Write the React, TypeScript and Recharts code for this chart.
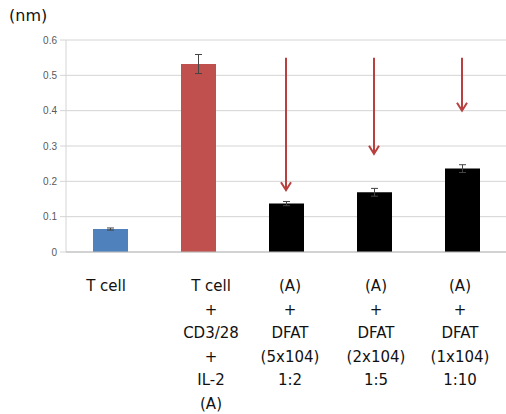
import { BarChart, Bar, XAxis, YAxis, CartesianGrid, Cell, ErrorBar, ReferenceLine } from 'recharts';

// categories and their multi-line labels
const CATEGORIES = ['tcell', 'stim', 'dfat52', 'dfat25', 'dfat110'];
const LABELS = [
    ['T cell'],
    ['T cell', '+', 'CD3/28', '+', 'IL-2', '(A)'],
    ['(A)', '+', 'DFAT', '(5x104)', '1:2'],
    ['(A)', '+', 'DFAT', '(2x104)', '1:5'],
    ['(A)', '+', 'DFAT', '(1x104)', '1:10'],
];
const VALUES = [0.065, 0.532, 0.137, 0.169, 0.236];
const ERRORS = [0.003, 0.027, 0.006, 0.011, 0.011];
const Y_TICKS = [0, 0.1, 0.2, 0.3, 0.4, 0.5, 0.6];

// red arrows: which bar, start value, end value
const ARROW_CATS = ['dfat52', 'dfat25', 'dfat110'];
const ARROW_TOP = 0.55;
const ARROW_ENDS = [0.175, 0.278, 0.4];

const COLORS = ['#4f81bd', '#c0504d', '#000000', '#000000', '#000000'];
const ARROW_COLOR = '#b8403e';
const LABEL_DX = [-4, 13, 4, 2, -2];
const FONT = "'DejaVu Sans', sans-serif";

const data = CATEGORIES.map((c, i) => ({ name: c, value: VALUES[i], err: ERRORS[i] }));

const renderTick = (props: any) => {
    const { x, y, index } = props;
    const lines = LABELS[index] || [];
    const cx = x + (LABEL_DX[index] || 0);
    return (
        <text x={cx} y={y} textAnchor="middle" fill="#111" fontSize={15} fontFamily={FONT}>
            {lines.map((l, i) => (
                <tspan key={i} x={cx} dy={i === 0 ? 31 : 23.6}>
                    {l}
                </tspan>
            ))}
        </text>
    );
};

const renderArrow = (props: any) => {
    const { x1, y1, x2, y2 } = props;
    if (x1 == null || y1 == null) return <g />;
    return (
        <g>
            <line x1={x1} y1={y1} x2={x2} y2={y2} stroke={ARROW_COLOR} strokeWidth={2} />
            <polyline
                points={`${x2 - 5},${y2 - 8} ${x2},${y2} ${x2 + 5},${y2 - 8}`}
                fill="none"
                stroke={ARROW_COLOR}
                strokeWidth={2}
            />
        </g>
    );
};

export default function App() {
    return (
        <div style={{ position: 'absolute', left: 0, top: 0, width: 506, height: 414, background: '#fff' }}>
            <div
                style={{
                    position: 'absolute',
                    left: 9,
                    top: 6,
                    fontSize: 16,
                    fontFamily: FONT,
                    color: '#111',
                }}
            >
                (nm)
            </div>
            <BarChart
                width={506}
                height={414}
                data={data}
                margin={{ top: 40, right: 0, left: 0, bottom: 0 }}
                barCategoryGap={0}
            >
                <CartesianGrid vertical={false} stroke="#d4d4d4" />
                <YAxis
                    domain={[0, 0.6]}
                    ticks={Y_TICKS}
                    width={66}
                    axisLine={{ stroke: '#d4d4d4' }}
                    tickLine={{ stroke: '#d4d4d4' }}
                    tickSize={6}
                    tickMargin={3}
                    tick={{ fontSize: 10, fill: '#595959', fontFamily: "'Liberation Sans', sans-serif" }}
                    tickFormatter={(v: number) => (v === 0 ? '0' : v.toFixed(1))}
                    interval={0}
                />
                <XAxis
                    dataKey="name"
                    height={162}
                    axisLine={{ stroke: '#bbb' }}
                    tickLine={false}
                    tick={renderTick}
                    interval={0}
                />
                <Bar dataKey="value" barSize={35} isAnimationActive={false}>
                    {data.map((d, i) => (
                        <Cell key={d.name} fill={COLORS[i]} />
                    ))}
                    <ErrorBar dataKey="err" width={3.5} stroke="#444" strokeWidth={1} />
                </Bar>
                {ARROW_CATS.map((c, i) => (
                    <ReferenceLine
                        key={c}
                        segment={[
                            { x: c, y: ARROW_TOP },
                            { x: c, y: ARROW_ENDS[i] },
                        ]}
                        shape={renderArrow}
                        ifOverflow="visible"
                    />
                ))}
            </BarChart>
        </div>
    );
}
